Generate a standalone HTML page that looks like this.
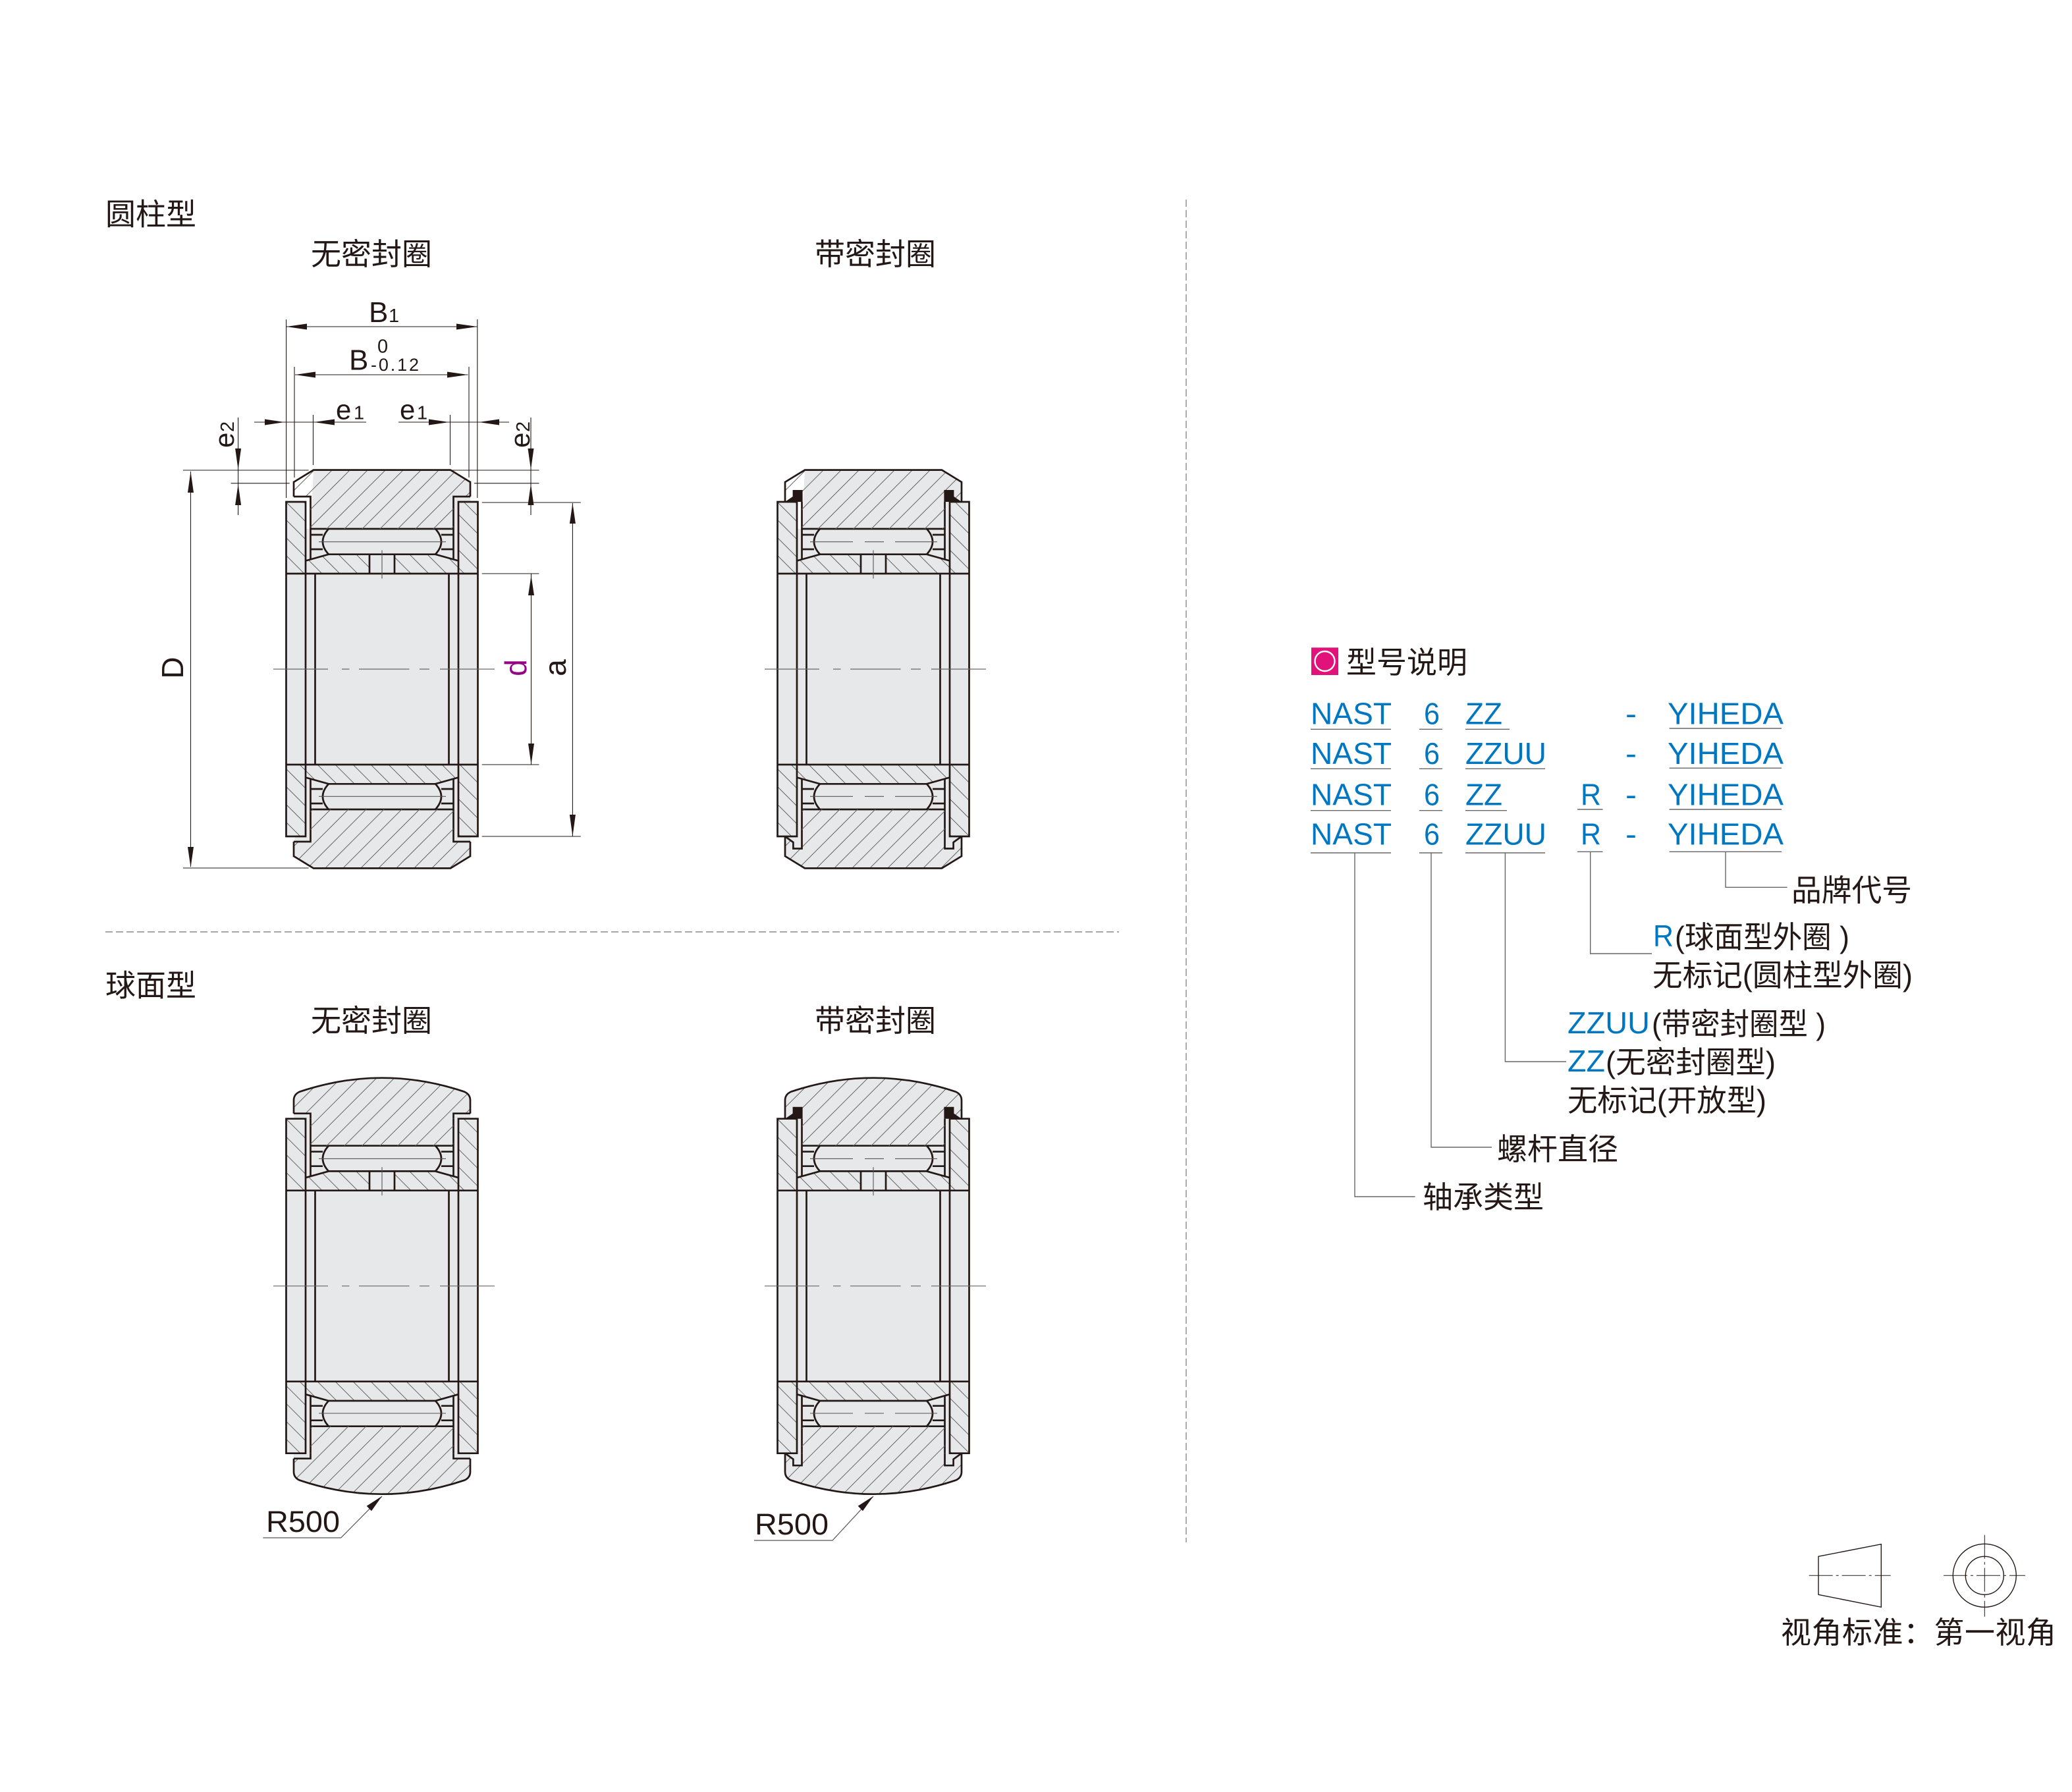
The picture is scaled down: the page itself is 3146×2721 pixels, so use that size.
<!DOCTYPE html>
<html><head><meta charset="utf-8"><style>
html,body{margin:0;padding:0;background:#fff}
svg{display:block}
text{font-family:"Liberation Sans","Noto Sans CJK SC",sans-serif;fill:#231815}
.c{font-size:46px}
.b{fill:#0077c0;font-size:46px}
.d{font-size:42px}
.B{font-size:44px}
.s{font-size:29px}
</style></head><body>
<svg xmlns="http://www.w3.org/2000/svg" width="3146" height="2721" viewBox="0 0 3146 2721">
<defs>
<path id="l1" fill="none" stroke="#666" stroke-width="1" d="M-150,-309l300,-300M-150,-282l300,-300M-150,-255l300,-300M-150,-228l300,-300M-150,-201l300,-300M-150,-174l300,-300M-150,-147l300,-300M-150,-120l300,-300M-150,-93l300,-300M-150,-66l300,-300M-150,-39l300,-300M-150,-12l300,-300M-150,15l300,-300M-150,42l300,-300M-150,69l300,-300M-150,96l300,-300M-150,123l300,-300M-150,150l300,-300M-150,177l300,-300M-150,204l300,-300M-150,231l300,-300M-150,258l300,-300M-150,285l300,-300M-150,312l300,-300M-150,339l300,-300M-150,366l300,-300M-150,393l300,-300M-150,420l300,-300M-150,447l300,-300M-150,474l300,-300M-150,501l300,-300M-150,528l300,-300M-150,555l300,-300M-150,582l300,-300M-150,609l300,-300"/>
<path id="l2" fill="none" stroke="#666" stroke-width="1" d="M-150,-609l300,300M-150,-582l300,300M-150,-555l300,300M-150,-528l300,300M-150,-501l300,300M-150,-474l300,300M-150,-447l300,300M-150,-420l300,300M-150,-393l300,300M-150,-366l300,300M-150,-339l300,300M-150,-312l300,300M-150,-285l300,300M-150,-258l300,300M-150,-231l300,300M-150,-204l300,300M-150,-177l300,300M-150,-150l300,300M-150,-123l300,300M-150,-96l300,300M-150,-69l300,300M-150,-42l300,300M-150,-15l300,300M-150,12l300,300M-150,39l300,300M-150,66l300,300M-150,93l300,300M-150,120l300,300M-150,147l300,300M-150,174l300,300M-150,201l300,300M-150,228l300,300M-150,255l300,300M-150,282l300,300M-150,309l300,300"/>

<clipPath id="ci"><path d="M-116,-164.5L-81,-174.3H-19V-145H-116ZM19,-174.3H81L116,-164.5V-145H19ZM-116,164.5L-81,174.3H81L116,164.5V145H-116ZM-145.5,-254H-116V-145H-145.5ZM116,-254H145.5V-145H116ZM-145.5,145H-116V254H-145.5ZM116,145H145.5V254H116Z"/></clipPath>
<clipPath id="cA"><path d="M-104,-302.4H104L134,-284V-262H108.5V-213H-108.5V-262H-134V-284ZM-104,302.4H104L134,284V262H108.5V213H-108.5V262H-134V284Z"/></clipPath>
<clipPath id="cB"><path d="M-104,-302.4H104L134,-284V-254L122,-262V-272H108.5V-213H-108.5V-272H-122V-262L-134,-254V-284ZM-104,302.4H104L134,284V254L122,263V272.5H108.5V213H-108.5V272.5H-122V263L-134,254V284Z"/></clipPath>
<clipPath id="cC"><path d="M-134,-262V-282Q-134,-291 -125,-295Q0,-337 125,-295Q134,-291 134,-282V-262H108.5V-213H-108.5V-262ZM-134,262V282Q-134,291 -125,295Q0,337 125,295Q134,291 134,282V262H108.5V213H-108.5V262Z"/></clipPath>
<clipPath id="cD"><path d="M-134,-254V-282Q-134,-291 -125,-295Q0,-337 125,-295Q134,-291 134,-282V-254L122,-262V-272H108.5V-213H-108.5V-272H-122V-262ZM-134,254V282Q-134,291 -125,295Q0,337 125,295Q134,291 134,282V254L122,263V272.5H108.5V213H-108.5V272.5H-122V263Z"/></clipPath>

<g id="half" fill="none" stroke="#231815" stroke-width="2.7">
<path d="M-145.5,0V-254H-116V0M145.5,0V-254H116V0M-101.5,0V-145M101.5,0V-145M-145.5,-145H145.5"/>
<path d="M-108.5,-254V-166.5M108.5,-254V-166.5M-108.5,-213H108.5M-116,-164.5L-81,-174.3H81L116,-164.5"/>
<path d="M-108.5,-204H-90M-108.5,-182H-90M108.5,-204H90M108.5,-182H90"/>
<path d="M-81,-213Q-99,-193.3 -81,-174.3M81,-213Q99,-193.3 81,-174.3"/>
</g>

<g id="inner">
<rect x="-145.5" y="-254" width="29.5" height="508" fill="#e7e8ea"/>
<rect x="116" y="-254" width="29.5" height="508" fill="#e7e8ea"/>
<path fill="#e7e8ea" d="M-116,-213H116V213H-116Z"/>
<g clip-path="url(#ci)"><use href="#l2"/></g>
<use href="#half"/>
<use href="#half" transform="scale(1,-1)"/>
<path d="M-19,-174V-145M19,-174V-145" fill="none" stroke="#231815" stroke-width="2.7"/>
<path d="M0,-180.5V-137.5" fill="none" stroke="#555" stroke-width="1.1"/>
</g>

<path id="stepN" d="M-134,-262H-108.5V-254M134,-262H108.5V-254" fill="none" stroke="#231815" stroke-width="2.7"/>

<g id="sealTop">
<path d="M-122.4,-272H-107.4V-254H-134L-122.4,-262ZM122.4,-272H107.4V-254H134L122.4,-262Z" fill="#231815"/>
</g>
<path id="sealBot" d="M-134,254L-121.6,263V272.5H-108.5V254M134,254L121.6,263V272.5H108.5V254" fill="none" stroke="#231815" stroke-width="2.7"/>

<g id="A">
<path d="M-104,-302.4H104L134,-284V284L104,302.4H-104L-134,284Z" fill="#e7e8ea"/>
<use href="#inner"/>
<g clip-path="url(#cA)"><use href="#l1"/></g>
<path d="M-134,-262V-284L-104,-302.4H104L134,-284V-262M-134,262V284L-104,302.4H104L134,284V262" fill="none" stroke="#231815" stroke-width="2.7"/>
<use href="#stepN"/><use href="#stepN" transform="scale(1,-1)"/>
<path d="M-96,-193.3H97M-96,193.3H97" stroke="#555" stroke-width="1.1"/>
</g>

<g id="B">
<path d="M-104,-302.4H104L134,-284V284L104,302.4H-104L-134,284Z" fill="#e7e8ea"/>
<use href="#inner"/>
<g clip-path="url(#cB)"><use href="#l1"/></g>
<path d="M-134,-254V-284L-104,-302.4H104L134,-284V-254M-134,254V284L-104,302.4H104L134,284V254" fill="none" stroke="#231815" stroke-width="2.7"/>
<use href="#sealTop"/><use href="#sealBot"/>
<path d="M-96,-193.3H-31M-13,-193.3H16M33,-193.3H97M-96,193.3H-31M-13,193.3H16M33,193.3H97" stroke="#555" stroke-width="1.1"/>
</g>

<g id="C">
<path d="M-134,-282Q-134,-291 -125,-295Q0,-337 125,-295Q134,-291 134,-282V282Q134,291 125,295Q0,337 -125,295Q-134,291 -134,282Z" fill="#e7e8ea"/>
<use href="#inner"/>
<g clip-path="url(#cC)"><use href="#l1"/></g>
<path d="M-134,-262V-282Q-134,-291 -125,-295Q0,-337 125,-295Q134,-291 134,-282V-262M-134,262V282Q-134,291 -125,295Q0,337 125,295Q134,291 134,282V262" fill="none" stroke="#231815" stroke-width="2.7"/>
<use href="#stepN"/><use href="#stepN" transform="scale(1,-1)"/>
<path d="M-96,-193.3H97M-96,193.3H97" stroke="#555" stroke-width="1.1"/>
</g>

<g id="D">
<path d="M-134,-282Q-134,-291 -125,-295Q0,-337 125,-295Q134,-291 134,-282V282Q134,291 125,295Q0,337 -125,295Q-134,291 -134,282Z" fill="#e7e8ea"/>
<use href="#inner"/>
<g clip-path="url(#cD)"><use href="#l1"/></g>
<path d="M-134,-254V-282Q-134,-291 -125,-295Q0,-337 125,-295Q134,-291 134,-282V-254M-134,254V282Q-134,291 -125,295Q0,337 125,295Q134,291 134,282V254" fill="none" stroke="#231815" stroke-width="2.7"/>
<use href="#sealTop"/><use href="#sealBot"/>
<path d="M-96,-193.3H-31M-13,-193.3H16M33,-193.3H97M-96,193.3H-31M-13,193.3H16M33,193.3H97" stroke="#555" stroke-width="1.1"/>
</g>

<path id="cl" d="M-165,0H-82M-61,0H-49.5M-35,0H41.5M57,0H72M88,0H171" fill="none" stroke="#666" stroke-width="1.2"/>
</defs>

<!-- Section dividers -->
<path d="M160,1415H1699" stroke="#888" stroke-width="1.4" stroke-dasharray="11 5" fill="none"/>
<path d="M1801,303V2342" stroke="#888" stroke-width="1.4" stroke-dasharray="11 5" fill="none"/>

<!-- Bearings -->
<use href="#A" transform="translate(580,1016)"/>
<use href="#B" transform="translate(1326,1016)"/>
<use href="#C" transform="translate(580,1952.7)"/>
<use href="#D" transform="translate(1326,1952.7)"/>
<use href="#cl" transform="translate(580,1016)"/>
<use href="#cl" transform="translate(1326,1016)"/>
<use href="#cl" transform="translate(580,1952.7)"/>
<use href="#cl" transform="translate(1326,1952.7)"/>

<!-- Headings -->
<text class="c" x="160" y="341.5" textLength="138" lengthAdjust="spacingAndGlyphs">圆柱型</text>
<text class="c" x="472" y="402" textLength="184" lengthAdjust="spacingAndGlyphs">无密封圈</text>
<text class="c" x="1237" y="402" textLength="184" lengthAdjust="spacingAndGlyphs">带密封圈</text>
<text class="c" x="160" y="1512.5" textLength="138" lengthAdjust="spacingAndGlyphs">球面型</text>
<text class="c" x="472" y="1566" textLength="184" lengthAdjust="spacingAndGlyphs">无密封圈</text>
<text class="c" x="1237" y="1566" textLength="184" lengthAdjust="spacingAndGlyphs">带密封圈</text>

<!-- Dimension lines -->
<g fill="none" stroke="#231815" stroke-width="1.1">
<path d="M434.6,485V756M724.8,485V756M434.6,496H724.8"/>
<path d="M447,557V725M712,557V725M448,569H710.5"/>
<path d="M386,641H556M605,641H773M475.5,630V706M683.5,630V706"/>
<path d="M361.6,634V782M806,634V782M278,714H468.6M684,714H818.5M350.6,733.8H439.7M720,733.8H818.5"/>
<path d="M289.5,716V1316M278,1318H468.6"/>
<path d="M869.4,764V1270M731.7,763H881.8M731.7,1270H881.8"/>
<path d="M806.5,871V1161M731.7,871H818.5M731.7,1161H818.5"/>
</g>
<g fill="#231815" stroke="none">
<polygon points="434.6,496 466,491.5 466,500.5"/><polygon points="724.8,496 693,491.5 693,500.5"/>
<polygon points="448,569 479,564.5 479,573.5"/><polygon points="710.5,569 679,564.5 679,573.5"/>
<polygon points="432,641 402,636.5 402,645.5"/><polygon points="476.5,641 508,636.5 508,645.5"/>
<polygon points="682,641 651,636.5 651,645.5"/><polygon points="727,641 758,636.5 758,645.5"/>
<polygon points="361.6,713 357.1,681 366.1,681"/><polygon points="361.6,735 357.1,767 366.1,767"/>
<polygon points="806,713 801.5,681 810.5,681"/><polygon points="806,735 801.5,767 810.5,767"/>
<polygon points="289.5,716 285,748 294,748"/><polygon points="289.5,1317 285,1286 294,1286"/>
<polygon points="869.4,764 864.9,795 873.9,795"/><polygon points="869.4,1270 864.9,1237 873.9,1237"/>
<polygon points="806.5,874 802,904 811,904"/><polygon points="806.5,1160.7 802,1129 811,1129"/>
</g>

<!-- Dimension labels -->
<text class="B" x="560" y="489">B</text><text class="s" x="590" y="489">1</text>
<text class="B" x="530" y="561.7">B</text>
<text class="s" x="573" y="535.5">0</text>
<text class="s" style="font-size:27px" x="563" y="563" textLength="73" lengthAdjust="spacing">-0.12</text>
<text class="d" x="510" y="636.5">e</text><text class="s" x="537" y="636.5">1</text>
<text class="d" x="607" y="636.5">e</text><text class="s" x="633" y="636.5">1</text>
<text class="d" transform="translate(355,680) rotate(-90)">e</text><text class="s" transform="translate(355,656) rotate(-90)">2</text>
<text class="d" transform="translate(804,680) rotate(-90)">e</text><text class="s" transform="translate(804,656) rotate(-90)">2</text>
<text font-size="46" text-anchor="middle" transform="translate(278,1014) rotate(-90)">D</text>
<text font-size="46" text-anchor="middle" transform="translate(859,1014) rotate(-90)">a</text>
<text font-size="46" text-anchor="middle" style="fill:#920783" transform="translate(799,1014) rotate(-90)">d</text>

<!-- R500 -->
<path d="M399.3,2335H517.7L580,2272" fill="none" stroke="#555" stroke-width="1.2"/>
<polygon points="580,2271.7 556.7,2286.7 564,2294.3" fill="#231815"/>
<text x="404" y="2326" font-size="45" textLength="112" lengthAdjust="spacingAndGlyphs">R500</text>
<path d="M1145,2339H1264L1326,2272" fill="none" stroke="#555" stroke-width="1.2"/>
<polygon points="1326,2271.7 1302.7,2286.7 1310,2294.3" fill="#231815"/>
<text x="1146" y="2330" font-size="45" textLength="112" lengthAdjust="spacingAndGlyphs">R500</text>

<!-- Model explanation -->
<rect x="1991" y="983.3" width="41" height="41.7" fill="#e2127b"/>
<circle cx="2011.5" cy="1004" r="15" fill="#e2127b" stroke="#fff" stroke-width="2.4"/>
<text class="c" x="2044" y="1022" textLength="184" lengthAdjust="spacingAndGlyphs">型号说明</text>

<g class="rows">
<text class="b" x="1990" y="1099.3" textLength="123" lengthAdjust="spacingAndGlyphs">NAST</text>
<text class="b" x="2162" y="1099.3" textLength="24" lengthAdjust="spacingAndGlyphs">6</text>
<text class="b" x="2225" y="1099.3" textLength="56" lengthAdjust="spacingAndGlyphs">ZZ</text>
<text class="b" x="2532" y="1099.3" textLength="176" lengthAdjust="spacingAndGlyphs">YIHEDA</text>
<text class="b" x="1990" y="1160" textLength="123" lengthAdjust="spacingAndGlyphs">NAST</text>
<text class="b" x="2162" y="1160" textLength="24" lengthAdjust="spacingAndGlyphs">6</text>
<text class="b" x="2225" y="1160" textLength="123" lengthAdjust="spacingAndGlyphs">ZZUU</text>
<text class="b" x="2532" y="1160" textLength="176" lengthAdjust="spacingAndGlyphs">YIHEDA</text>
<text class="b" x="1990" y="1222.3" textLength="123" lengthAdjust="spacingAndGlyphs">NAST</text>
<text class="b" x="2162" y="1222.3" textLength="24" lengthAdjust="spacingAndGlyphs">6</text>
<text class="b" x="2225" y="1222.3" textLength="56" lengthAdjust="spacingAndGlyphs">ZZ</text>
<text class="b" x="2400" y="1222.3" textLength="31" lengthAdjust="spacingAndGlyphs">R</text>
<text class="b" x="2532" y="1222.3" textLength="176" lengthAdjust="spacingAndGlyphs">YIHEDA</text>
<text class="b" x="1990" y="1282.7" textLength="123" lengthAdjust="spacingAndGlyphs">NAST</text>
<text class="b" x="2162" y="1282.7" textLength="24" lengthAdjust="spacingAndGlyphs">6</text>
<text class="b" x="2225" y="1282.7" textLength="123" lengthAdjust="spacingAndGlyphs">ZZUU</text>
<text class="b" x="2400" y="1282.7" textLength="31" lengthAdjust="spacingAndGlyphs">R</text>
<text class="b" x="2532" y="1282.7" textLength="176" lengthAdjust="spacingAndGlyphs">YIHEDA</text>
<text class="b" x="2468" y="1099.3" textLength="17" lengthAdjust="spacingAndGlyphs">-</text>
<text class="b" x="2468" y="1160" textLength="17" lengthAdjust="spacingAndGlyphs">-</text>
<text class="b" x="2468" y="1222.3" textLength="17" lengthAdjust="spacingAndGlyphs">-</text>
<text class="b" x="2468" y="1282.7" textLength="17" lengthAdjust="spacingAndGlyphs">-</text>
</g>

<g fill="none" stroke="#666" stroke-width="1.4">
<path d="M1990,1107.3H2112M2155,1107.3H2190M2225,1107.3H2292M2534.6,1106H2705"/>
<path d="M1990,1167.3H2112M2155,1167.3H2190M2225,1167.3H2346M2534.6,1166.3H2705"/>
<path d="M1990,1230.7H2112M2155,1230.7H2190M2225,1230.7H2288M2395,1229H2433.6M2534.6,1229H2705"/>
<path d="M1990,1295H2112M2155,1295H2190M2225,1295H2346M2395,1293.3H2433.6M2534.6,1293.3H2705"/>
<path d="M2620,1293.3V1347.3H2713.7"/>
<path d="M2414.7,1293.3V1448H2508"/>
<path d="M2285.4,1295V1612H2378"/>
<path d="M2173,1295V1742H2265"/>
<path d="M2057,1295V1817H2148.6"/>
</g>

<text class="c" x="2720" y="1368" textLength="183" lengthAdjust="spacingAndGlyphs">品牌代号</text>
<text class="b" x="2510" y="1437" textLength="31" lengthAdjust="spacingAndGlyphs">R</text>
<text class="c" x="2543" y="1439" textLength="265" lengthAdjust="spacingAndGlyphs">(球面型外圈 )</text>
<text class="c" x="2509" y="1497" textLength="395" lengthAdjust="spacingAndGlyphs">无标记(圆柱型外圈)</text>
<text class="b" x="2380" y="1569" textLength="125" lengthAdjust="spacingAndGlyphs">ZZUU</text>
<text class="c" x="2508" y="1571" textLength="264" lengthAdjust="spacingAndGlyphs">(带密封圈型 )</text>
<text class="b" x="2380" y="1627" textLength="57" lengthAdjust="spacingAndGlyphs">ZZ</text>
<text class="c" x="2438" y="1629" textLength="258" lengthAdjust="spacingAndGlyphs">(无密封圈型)</text>
<text class="c" x="2380" y="1687" textLength="302" lengthAdjust="spacingAndGlyphs">无标记(开放型)</text>
<text class="c" x="2273" y="1761" textLength="184" lengthAdjust="spacingAndGlyphs">螺杆直径</text>
<text class="c" x="2160" y="1834" textLength="184" lengthAdjust="spacingAndGlyphs">轴承类型</text>

<!-- Projection symbol -->
<g fill="none" stroke="#231815" stroke-width="1.4">
<path d="M2761,2363.3L2856.3,2344.7V2440.3L2761,2421.3Z"/>
<circle cx="3013.3" cy="2392.3" r="48"/>
<circle cx="3013.3" cy="2392.3" r="29"/>
</g>
<g fill="none" stroke="#231815" stroke-width="1" stroke-dasharray="36 5 4 5">
<path d="M2746.7,2392.3H2870.7"/>
<path d="M2951,2392.3H3075"/>
<path d="M3013.3,2330.7V2454.7"/>
</g>
<text class="c" x="2704" y="2495" textLength="418" lengthAdjust="spacing">视角标准：第一视角</text>
</svg>
</body></html>
